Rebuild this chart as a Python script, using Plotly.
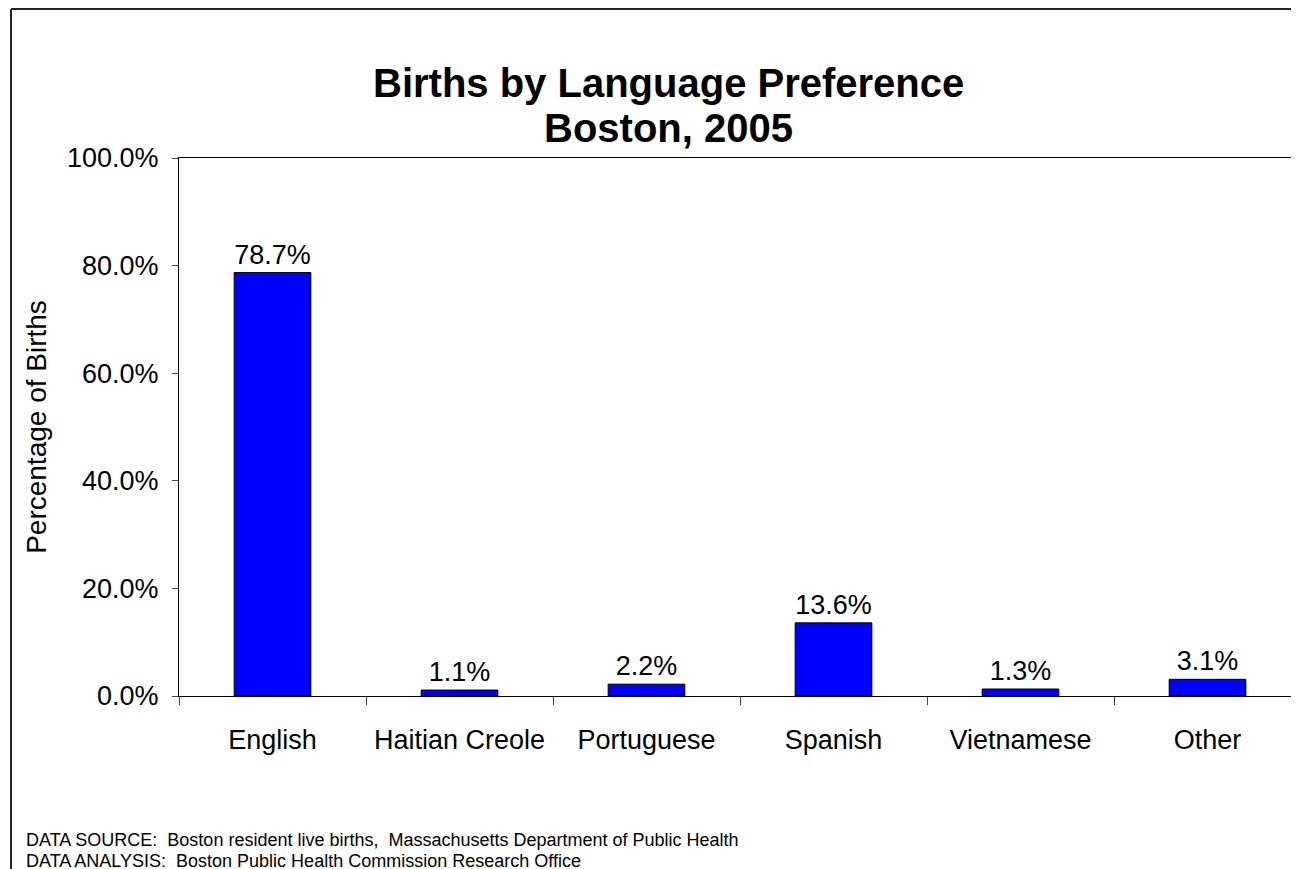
import plotly.graph_objects as go

categories = ["English", "Haitian Creole", "Portuguese", "Spanish", "Vietnamese", "Other"]
values = [0.787, 0.011, 0.022, 0.136, 0.013, 0.031]
y_ticks = [0, 0.2, 0.4, 0.6, 0.8, 1.0]
title_lines = ["Births by Language Preference", "Boston, 2005"]
footer_lines = [
    "DATA SOURCE:  Boston resident live births,  Massachusetts Department of Public Health",
    "DATA ANALYSIS:  Boston Public Health Commission Research Office",
]

FONT = "Liberation Sans, Arial, sans-serif"
W, H = 1299, 869
# the page body has an 8px margin, so figure coords = screen coords - 8
L, R, T, B = 171, 6, 150, 181

fig = go.Figure(go.Bar(
    x=categories, y=values,
    marker=dict(color="#0000FF", line=dict(color="black", width=1)),
    texttemplate="%{y:.1%}", textposition="outside",
    textfont=dict(family=FONT, size=27, color="black"),
    cliponaxis=False,
))

fig.update_layout(
    width=W, height=H,
    margin=dict(l=L, r=R, t=T, b=B, autoexpand=False),
    paper_bgcolor="white", plot_bgcolor="white",
    bargap=0.59,
    showlegend=False,
    font=dict(family=FONT, color="black"),
)

fig.update_xaxes(
    type="category", range=[-0.5, 5.5],
    showline=True, linecolor="black", linewidth=1, mirror=True,
    ticks="outside", tickson="boundaries", ticklen=8, tickcolor="#444",
    tickfont=dict(family=FONT, size=27, color="black"),
    ticklabelstandoff=20,
    showgrid=False, zeroline=False,
)
fig.update_yaxes(
    range=[0, 1], tickvals=y_ticks, tickformat=".1%",
    showline=True, linecolor="black", linewidth=1,
    ticks="outside", ticklen=6, tickcolor="#444",
    tickfont=dict(family=FONT, size=27, color="black"),
    ticklabelstandoff=8,
    showgrid=False, zeroline=False,
    title=dict(text="Percentage of Births", font=dict(family=FONT, size=28, color="black"), standoff=12),
)

pw = W - L - R
ph = H - T - B
def px(x):
    return (x - L) / pw
def py(y):
    return (H - B - y) / ph

# outer chart border (left and top)
fig.add_shape(type="line", xref="paper", yref="paper", x0=px(3), x1=px(3), y0=py(1), y1=py(H + 5),
              line=dict(color="#222", width=2))
fig.add_shape(type="line", xref="paper", yref="paper", x0=px(3), x1=px(W + 5), y0=py(1), y1=py(1),
              line=dict(color="#222", width=2))

# title (two lines)
for txt, yy in zip(title_lines, [75, 120]):
    fig.add_annotation(
        xref="paper", yref="paper", x=px(660), y=py(yy), xanchor="center", yanchor="middle",
        text=f"<b>{txt}</b>", showarrow=False,
        font=dict(family=FONT, size=40, color="black"),
    )

for txt, yy in zip(footer_lines, [832, 853]):
    fig.add_annotation(
        xref="paper", yref="paper", x=px(16), y=py(yy), xanchor="left", yanchor="middle",
        text=txt, showarrow=False, font=dict(family=FONT, size=18, color="black"),
    )

fig.write_html("out.html")
